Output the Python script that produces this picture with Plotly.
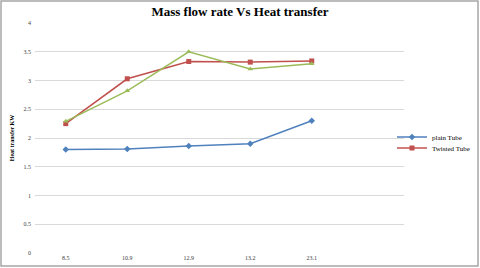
import plotly.graph_objects as go

categories = ["8.5", "10.9", "12.9", "13.2", "23.1"]
plain_tube = [1.80, 1.81, 1.86, 1.90, 2.30]
twisted_tube = [2.25, 3.03, 3.33, 3.32, 3.34]
third_series = [2.29, 2.82, 3.50, 3.20, 3.29]
y_ticks = [0, 0.5, 1, 1.5, 2, 2.5, 3, 3.5, 4]
y_tick_text = ["0", "0.5", "1", "1.5", "2", "2.5", "3", "3.5", "4"]

xs = list(range(len(categories)))

L, R, T, B = 35, 76, 23, 15
W, H = 480, 268
pw = W - L - R
ph = H - T - B

fig = go.Figure()
fig.add_trace(go.Scatter(x=xs, y=plain_tube, mode="lines+markers", name="plain Tube",
                         legend="legend",
                         line=dict(color="#4F81BD", width=1.5),
                         marker=dict(symbol="diamond", size=5, color="#4F81BD")))
fig.add_trace(go.Scatter(x=xs, y=twisted_tube, mode="lines+markers", name="Twisted Tube",
                         legend="legend2",
                         line=dict(color="#C0504D", width=1.5),
                         marker=dict(symbol="square", size=5, color="#C0504D")))
fig.add_trace(go.Scatter(x=xs, y=third_series, mode="lines+markers", name="",
                         showlegend=False,
                         line=dict(color="#9BBB59", width=1.5),
                         marker=dict(symbol="triangle-up", size=5, color="#9BBB59")))

leg_common = dict(xanchor="left", yanchor="middle",
                  font=dict(family="Liberation Serif", size=7, color="#000000"),
                  bgcolor="rgba(0,0,0,0)", itemwidth=30)

fig.update_layout(
    width=W, height=H,
    margin=dict(l=L, r=R, t=T, b=B, autoexpand=False),
    paper_bgcolor="white", plot_bgcolor="white",
    font=dict(family="Liberation Serif", size=7, color="#404040"),
    title=dict(text="<b>Mass flow rate Vs Heat transfer</b>", x=0.5, xanchor="center",
               xref="container", y=1 - 11 / H, yanchor="middle",
               font=dict(family="Liberation Serif", size=13, color="#000000")),
    xaxis=dict(tickmode="array", tickvals=xs, ticktext=categories, range=[-0.5, 5.5],
               showgrid=False, zeroline=False, showline=False, ticks="",
               tickfont=dict(size=6, color="#404040")),
    yaxis=dict(range=[0, 4], tickmode="array", tickvals=y_ticks, ticktext=y_tick_text,
               showgrid=True, gridcolor="#D9D9D9", gridwidth=1, zeroline=False,
               showline=False, ticks="", ticklabelstandoff=3,
               tickfont=dict(size=6, color="#404040"),
               title=dict(text="<b>Heat transfer KW</b>", standoff=8,
                          font=dict(family="Liberation Serif", size=6, color="#000000"))),
    legend=dict(x=(392 - L) / pw, y=1 - (137 - T) / ph, **leg_common),
    legend2=dict(x=(392 - L) / pw, y=1 - (148 - T) / ph, **leg_common),
    shapes=[
        dict(type="rect", xref="paper", yref="paper",
             x0=(1 - L) / pw, x1=(W - 2 - L) / pw,
             y0=-(B - 2) / ph, y1=1 + (T - 1) / ph,
             line=dict(color="#A6A6A6", width=1.5), layer="below"),
    ],
)

fig.write_html("out.html", config={"displayModeBar": False},
               post_script="document.body.style.margin='0';document.body.style.padding='0';")
